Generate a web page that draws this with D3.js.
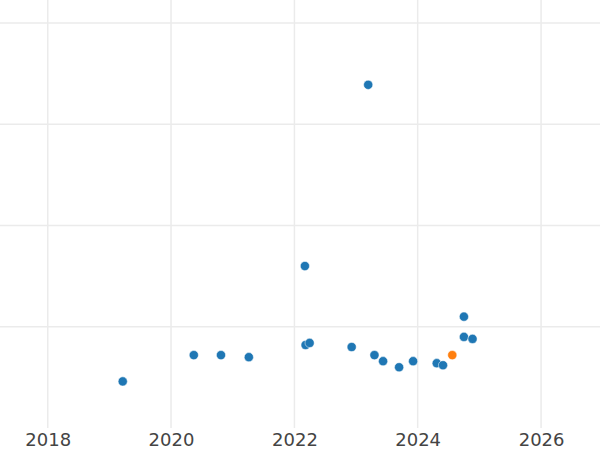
<!DOCTYPE html>
<head>
  <meta charset="utf-8">
  <script src="https://d3js.org/d3.v7.min.js"></script>
<style>
    body {
        margin: 0;
        background: #fff;
    }
    .grid line {
        stroke: #ebebeb;
        stroke-width: 1.5px;
    }
    .axis text {
        font-family: "DejaVu Sans", sans-serif;
        font-size: 18px;
        fill: #444;
    }
</style>
</head>

<body>
  <script>

// release dates and values (unlabelled y scale)
var dates = ["2019-03-21", "2020-05-15", "2020-10-23", "2021-04-06", "2022-03-04",
    "2022-03-08", "2022-04-01", "2022-12-06", "2023-03-14", "2023-04-20",
    "2023-06-10", "2023-09-13", "2023-12-05", "2024-04-23", "2024-05-30",
    "2024-07-24", "2024-10-01", "2024-10-01", "2024-11-21"];
var values = [0.46, 0.72, 0.72, 0.70, 1.60,
    0.82, 0.84, 0.80, 3.39, 0.72,
    0.66, 0.60, 0.66, 0.64, 0.62,
    0.72, 1.10, 0.90, 0.88];
var highlight = [false, false, false, false, false,
    false, false, false, false, false,
    false, false, false, false, false,
    true, false, false, false];
var yGrid = [1, 2, 3, 4];

var width = 600;
var height = 450;
var plotBottom = 428;

var parse = d3.timeParse("%Y-%m-%d");

var svg = d3.select("body")
    .append("svg")
    .attr("width", width)
    .attr("height", height);

var x = d3.scaleTime()
    .domain([parse("2017-03-24"), parse("2026-12-16")])
    .range([0, width]);

var y = d3.scaleLinear()
    .domain([0, 4.228])
    .range([plotBottom, 0]);

// vertical grid
svg.append("g")
    .attr("class", "grid")
    .selectAll("line")
    .data(x.ticks(d3.timeYear.every(2)))
    .enter()
    .append("line")
    .attr("x1", function (d) { return x(d); })
    .attr("x2", function (d) { return x(d); })
    .attr("y1", 0)
    .attr("y2", plotBottom);

// horizontal grid
svg.append("g")
    .attr("class", "grid")
    .selectAll("line")
    .data(yGrid)
    .enter()
    .append("line")
    .attr("x1", 0)
    .attr("x2", width)
    .attr("y1", function (d) { return y(d); })
    .attr("y2", function (d) { return y(d); });

var xAxis = svg.append("g")
    .attr("class", "axis")
    .attr("transform", "translate(0," + plotBottom + ")")
    .call(d3.axisBottom(x)
        .ticks(d3.timeYear.every(2))
        .tickFormat(d3.timeFormat("%Y"))
        .tickSize(0)
        .tickPadding(5));
xAxis.select(".domain").remove();
xAxis.selectAll("text").attr("dy", "0.71em");

var data = dates.map(function (d, i) {
    return { date: parse(d), value: values[i], hl: highlight[i] };
});

svg.append("g")
    .selectAll("circle")
    .data(data)
    .enter()
    .append("circle")
    .attr("cx", function (d) { return x(d.date); })
    .attr("cy", function (d) { return y(d.value); })
    .attr("r", 4.6)
    .attr("fill", function (d) { return d.hl ? "#ff7f0e" : "#1f77b4"; })
    .attr("stroke", "#fff")
    .attr("stroke-width", 0.5);

  </script>
</body>
